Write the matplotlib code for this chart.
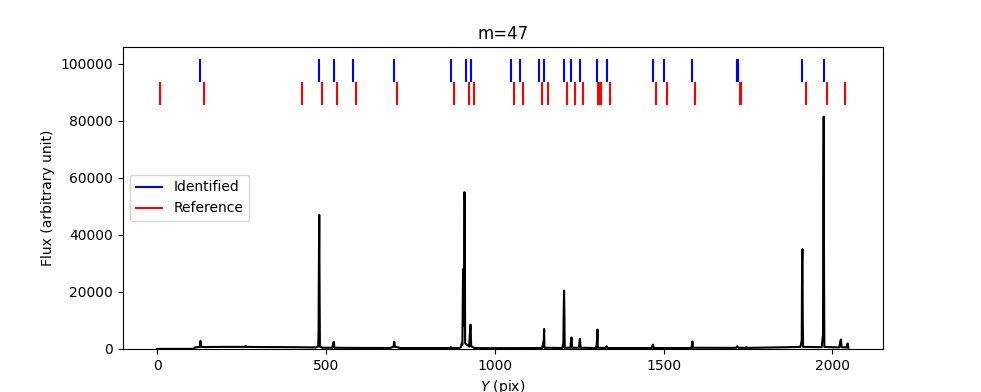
import matplotlib
matplotlib.use("Agg")
import matplotlib.pyplot as plt
import numpy as np

# Spectrum outline (pixel, flux)
spec_x = [0, 108, 112, 126, 127, 128, 129, 131, 140, 200, 260, 262, 264, 300, 400,
          470, 477, 478, 479, 480, 481, 482, 490, 519, 521, 523, 525, 560, 690,
          700, 702, 704, 720, 868, 870, 872, 895, 900, 902, 904, 906, 907, 909,
          910, 911, 912, 924, 926, 928, 930, 940, 1000, 1140, 1145, 1146, 1147,
          1200, 1203, 1204, 1205, 1206, 1207, 1224, 1226, 1227, 1229, 1249, 1251,
          1252, 1254, 1300, 1303, 1304, 1305, 1328, 1331, 1334, 1465, 1468, 1471,
          1582, 1584, 1585, 1587, 1700, 1715, 1718, 1721, 1742, 1745, 1748, 1850,
          1905, 1909, 1910, 1911, 1912, 1913, 1968, 1972, 1973, 1974, 1975, 1976,
          2020, 2023, 2025, 2027, 2041, 2043, 2045, 2047]
spec_flux = [0, 0, 500, 700, 2000, 2800, 2000, 700, 650, 700, 700, 1000, 700, 650, 600,
             500, 800, 6000, 30000, 47000, 20000, 800, 400, 400, 1800, 2500, 400, 350, 300,
             800, 2500, 800, 300, 300, 600, 300, 300, 600, 2000, 1500, 28000, 8000, 20000,
             55000, 52000, 2000, 800, 5000, 8500, 900, 300, 250, 300, 3000, 7000, 400,
             300, 2000, 13000, 20500, 12000, 400, 400, 3000, 4000, 400, 400, 2500,
             3500, 400, 300, 3000, 6800, 400, 300, 900, 300, 300, 1500, 300,
             300, 1500, 2600, 400, 350, 400, 900, 400, 350, 600, 350, 550,
             700, 3000, 30000, 35000, 10000, 700, 600, 5000, 57000, 81500, 28000, 700,
             500, 2500, 3300, 600, 500, 1200, 1900, 400]

# Identified line positions (blue)
identified = [128, 480, 523, 581, 702, 870, 914, 928, 1049, 1074, 1131, 1146,
              1205, 1227, 1252, 1304, 1331, 1468, 1501, 1585, 1716, 1720, 1911, 1974]
# Reference line positions (red)
reference = [8, 138, 429, 488, 532, 590, 711, 879, 923, 937, 1057, 1082, 1140,
             1156, 1215, 1237, 1261, 1306, 1310, 1314, 1341, 1477, 1510, 1594,
             1726, 1730, 1921, 1984, 2036]

fig, ax = plt.subplots(figsize=(9.81, 3.92), dpi=100)
ax.plot(spec_x, spec_flux, color="black", lw=1.5)

fmax = max(spec_flux)
ax.vlines(identified, 1.15 * fmax, 1.25 * fmax, color="blue", lw=1.5, label="Identified")
ax.vlines(reference, 1.05 * fmax, 1.15 * fmax, color="red", lw=1.5, label="Reference")
ax.set_ylim(0, 1.3 * fmax)
ax.set_xlim(-102.35, 2149.35)

ax.set_title("m=47")
ax.set_xlabel("$Y$ (pix)")
ax.set_ylabel("Flux (arbitrary unit)")
ax.legend(loc="center left")

fig.savefig("out.png", dpi=100)
